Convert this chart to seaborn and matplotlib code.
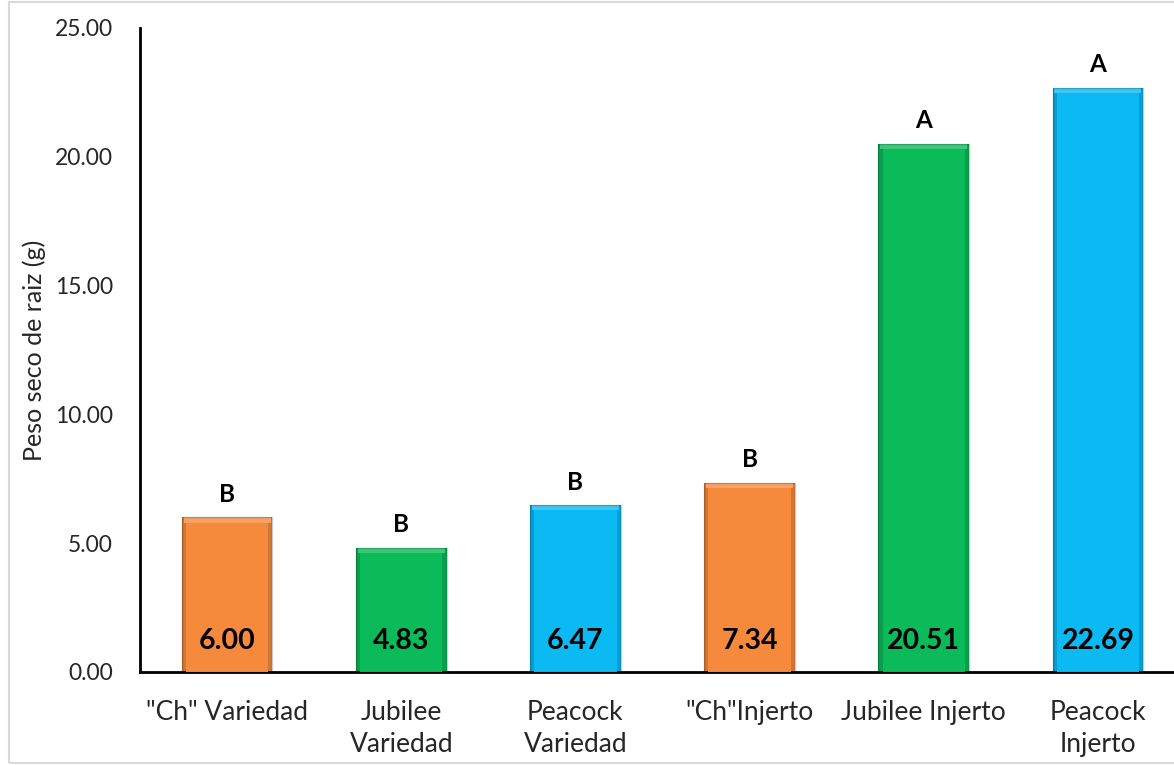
import matplotlib
matplotlib.use("Agg")
import matplotlib.pyplot as plt
import seaborn as sns
import pandas as pd
import matplotlib.colors as mcolors
from matplotlib.patches import Rectangle

categories = ['"Ch" Variedad', 'Jubilee\nVariedad', 'Peacock\nVariedad',
              '"Ch"Injerto', 'Jubilee Injerto', 'Peacock\nInjerto']
values = [6.00, 4.83, 6.47, 7.34, 20.51, 22.69]
letters = ['B', 'B', 'B', 'B', 'A', 'A']
colors = ['#F68A3C', '#0BBA58', '#0BB9F3', '#F68A3C', '#0BBA58', '#0BB9F3']
yticks = [0, 5, 10, 15, 20, 25]

sns.set_theme(style="white")
plt.rcParams['font.family'] = ['Lato', 'DejaVu Sans']

fig = plt.figure(figsize=(11.74, 7.65), dpi=100)
ax = fig.add_axes([140 / 1174, 93 / 765, 1045 / 1174, 644 / 765])

df = pd.DataFrame({'cat': categories, 'val': values})
sns.barplot(data=df, x='cat', y='val', hue='cat', palette=colors, legend=False,
            width=0.52, ax=ax, saturation=1, edgecolor='none')


def shade(c, f):
    r, g, b = mcolors.to_rgb(c)
    if f < 1:
        return (r * f, g * f, b * f)
    return (r + (1 - r) * (f - 1), g + (1 - g) * (f - 1), b + (1 - b) * (f - 1))


# bevel effect: darker sides, lighter top
for p, c in zip(ax.patches[:len(values)], colors):
    x, y = p.get_x(), p.get_y()
    w, h = p.get_width(), p.get_height()
    p.set_facecolor(shade(c, 0.85))
    ax.add_patch(Rectangle((x + w * 0.045, y), w * 0.91, h - 0.2,
                           facecolor=c, edgecolor='none', zorder=3))
    ax.add_patch(Rectangle((x + w * 0.02, y + h - 0.2), w * 0.96, 0.2,
                           facecolor=shade(c, 1.2), edgecolor='none', zorder=3))
    ax.add_patch(Rectangle((x, y), w, h, fill=False,
                           edgecolor=(0, 0, 0, 0.2), lw=1.0, zorder=4))

for i, (v, l) in enumerate(zip(values, letters)):
    ax.text(i, 1.2, f'{v:.2f}', ha='center', va='center', fontsize=20.5,
            fontweight='bold', color='black', zorder=5)
    ax.text(i, v + 0.45, l, ha='center', va='bottom', fontsize=17.5,
            fontweight='bold', color='black', zorder=5)

ax.set_ylim(0, 25)
ax.set_xlim(-0.5, 5.5)
ax.set_yticks(yticks)
ax.set_yticklabels([f'{t:.2f}' for t in yticks], fontsize=16.5)
ax.set_xticks(range(len(categories)))
ax.set_xticklabels(categories, fontsize=19, linespacing=1.38)
ax.tick_params(axis='x', pad=20, length=0)
ax.tick_params(axis='y', length=0, pad=19.5)
ax.set_xlabel('')
ax.set_ylabel('Peso seco de raiz (g)', fontsize=18, labelpad=6)
for s in ['top', 'right']:
    ax.spines[s].set_visible(False)
for s in ['left', 'bottom']:
    ax.spines[s].set_color('black')
    ax.spines[s].set_linewidth(2)

fig.patches.append(Rectangle((0.008, 0.002), 1.1, 0.996, transform=fig.transFigure,
                             fill=False, edgecolor='#D9D9D9', lw=1.5))

fig.savefig('out.png', dpi=100)
